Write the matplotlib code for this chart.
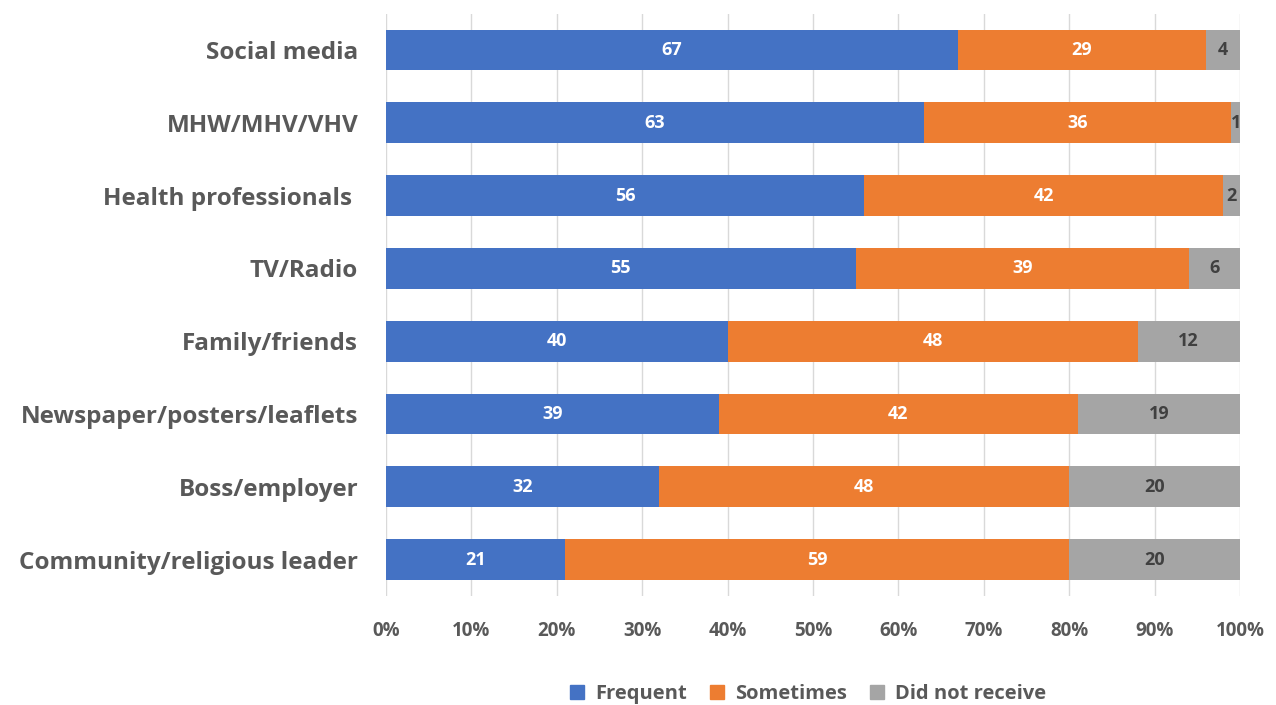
import matplotlib.pyplot as plt
import numpy as np

# Data (top to bottom as shown)
categories = ['Social media', 'MHW/MHV/VHV', 'Health professionals ', 'TV/Radio',
              'Family/friends', 'Newspaper/posters/leaflets', 'Boss/employer',
              'Community/religious leader']
frequent = [67, 63, 56, 55, 40, 39, 32, 21]
sometimes = [29, 36, 42, 39, 48, 42, 48, 59]
not_received = [4, 1, 2, 6, 12, 19, 20, 20]

series = [('Frequent', frequent, '#4472C4', 'white'),
          ('Sometimes', sometimes, '#ED7D31', 'white'),
          ('Did not receive', not_received, '#A5A5A5', '#404040')]

plt.rcParams['font.family'] = ['Open Sans', 'DejaVu Sans']
plt.rcParams['font.weight'] = 'bold'

fig = plt.figure(figsize=(12.76, 7.05), dpi=100)
ax = fig.add_axes([0.3025, 0.1546, 0.6693, 0.8261])

y = np.arange(len(categories))
left = np.zeros(len(categories))
for name, vals, color, tcolor in series:
    vals = np.array(vals, dtype=float)
    ax.barh(y, vals, left=left, height=0.56, color=color, label=name, zorder=2)
    for yi, l, v in zip(y, left, vals):
        ax.text(l + v / 2, yi, f'{int(v)}', ha='center', va='center',
                color=tcolor, fontsize=13, fontweight='bold', zorder=3)
    left += vals

ax.set_ylim(len(categories) - 0.5, -0.5)
ax.set_xlim(0, 100)
ax.set_yticks(y)
ax.set_yticklabels(categories, fontsize=17.5, color='#595959', fontweight='bold')
ax.set_xticks(np.arange(0, 101, 10))
ax.set_xticklabels([f'{t}%' for t in range(0, 101, 10)], fontsize=13.5,
                   color='#595959', fontweight='bold')
ax.tick_params(axis='both', length=0)
ax.tick_params(axis='x', pad=18)
ax.tick_params(axis='y', pad=20)
ax.grid(axis='x', color='#D9D9D9', linewidth=1, zorder=0)
for s in ax.spines.values():
    s.set_visible(False)

handles = [plt.Line2D([], [], marker='s', linestyle='', markersize=10,
                      color=c, label=n) for n, _, c, _ in series]
fig.legend(handles=handles, loc='center', bbox_to_anchor=(0.628, 0.015), ncol=3,
           frameon=False, fontsize=14.5, handletextpad=-0.1, columnspacing=0.5,
           labelcolor='#595959')

fig.savefig('out.png', dpi=100)
